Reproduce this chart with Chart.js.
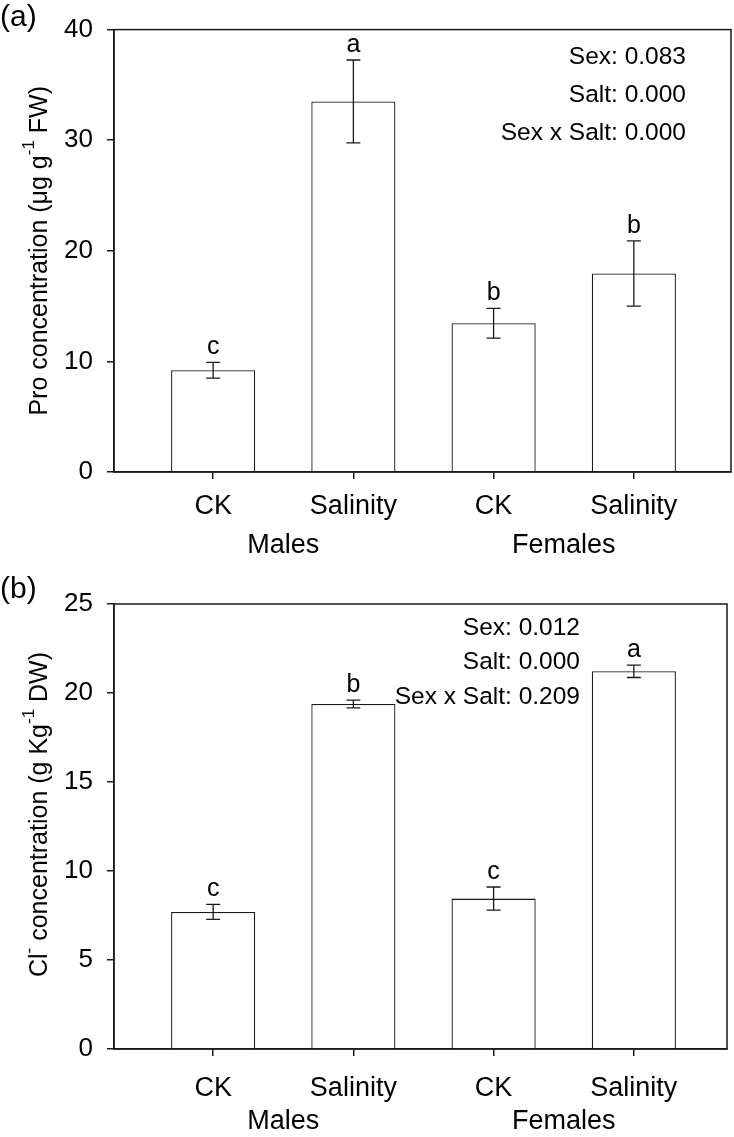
<!DOCTYPE html>
<html>
<head>
<meta charset="utf-8">
<script src="https://cdn.jsdelivr.net/npm/chart.js@4.4.0/dist/chart.umd.min.js"></script>
<style>
  html, body { margin: 0; padding: 0; background: #fff; }
  body { width: 734px; height: 1137px; position: relative; overflow: hidden; }
  canvas { position: absolute; left: 0; }
  #c1 { top: 0; }
  #c2 { top: 568px; }
</style>
</head>
<body>
<canvas id="c1" width="734" height="568"></canvas>
<canvas id="c2" width="734" height="569"></canvas>
<script>
// ---- data ----
const categories = ['CK', 'Salinity', 'CK', 'Salinity'];
const groups = ['Males', 'Females'];

const proValues  = [9.2, 33.5, 13.45, 17.95];
const proErrors  = [0.72, 3.75, 1.35, 2.95];
const proLetters = ['c', 'a', 'b', 'b'];
const proStats   = ['Sex: 0.083', 'Salt: 0.000', 'Sex x Salt: 0.000'];
const proTicks   = [0, 10, 20, 30, 40];

const clValues  = [7.7, 19.38, 8.45, 21.22];
const clErrors  = [0.42, 0.22, 0.65, 0.35];
const clLetters = ['c', 'b', 'c', 'a'];
const clStats   = ['Sex: 0.012', 'Salt: 0.000', 'Sex x Salt: 0.209'];
const clTicks   = [0, 5, 10, 15, 20, 25];

const FONT = '"Liberation Sans", Arial, Helvetica, sans-serif';
const INK = '#1a1a1a';

function drawRich(ctx, segs, size) {
  let total = 0;
  const parts = segs.map(s => {
    const fs = s.sup ? size * 0.68 : size;
    ctx.font = fs + 'px ' + FONT;
    const w = ctx.measureText(s.t).width;
    total += w;
    return { t: s.t, fs, w, sup: s.sup };
  });
  let x = -total / 2;
  parts.forEach(p => {
    ctx.font = p.fs + 'px ' + FONT;
    ctx.fillText(p.t, x, p.sup ? -size * 0.42 : 0);
    x += p.w;
  });
}

function makePanel(id, cfg) {
  const canvas = document.getElementById(id);
  const H = canvas.height;
  const overlay = {
    id: 'overlay',
    afterDatasetsDraw(chart) {
      const ctx = chart.ctx;
      const xs = chart.scales.x, ys = chart.scales.y;
      const a = chart.chartArea;
      ctx.save();
      ctx.strokeStyle = INK;
      ctx.lineWidth = 1.5;
      ctx.strokeRect(a.left, a.top, a.right - a.left, a.bottom - a.top);
      cfg.values.forEach((v, i) => {
        const px = xs.getPixelForValue(i + 1);
        const hi = ys.getPixelForValue(v + cfg.errors[i]);
        const lo = ys.getPixelForValue(v - cfg.errors[i]);
        ctx.beginPath();
        ctx.moveTo(px, hi); ctx.lineTo(px, lo);
        ctx.moveTo(px - 7, hi); ctx.lineTo(px + 7, hi);
        ctx.moveTo(px - 7, lo); ctx.lineTo(px + 7, lo);
        ctx.lineWidth = 1.3;
        ctx.stroke();
        ctx.fillStyle = '#000';
        ctx.font = '25px ' + FONT;
        ctx.textAlign = 'center';
        ctx.textBaseline = 'alphabetic';
        ctx.fillText(cfg.letters[i], px, hi - 8);
      });
      ctx.font = '24.5px ' + FONT;
      ctx.textAlign = 'right';
      ctx.textBaseline = 'middle';
      cfg.stats.forEach((s, i) => {
        ctx.fillText(s, cfg.statsX, cfg.statsY + i * cfg.statsGap);
      });
      ctx.textAlign = 'center';
      ctx.font = '27px ' + FONT;
      ctx.fillText(groups[0], xs.getPixelForValue(1.5), a.bottom + cfg.groupDy);
      ctx.fillText(groups[1], xs.getPixelForValue(3.5), a.bottom + cfg.groupDy);
      ctx.font = '30px ' + FONT;
      ctx.textAlign = 'left';
      ctx.fillText(cfg.panel, 0, cfg.panelY);
      ctx.translate(40, (a.top + a.bottom) / 2 + cfg.titleDy);
      ctx.rotate(-Math.PI / 2);
      ctx.textAlign = 'left';
      ctx.textBaseline = 'middle';
      drawRich(ctx, cfg.title, 25);
      ctx.restore();
    }
  };
  return new Chart(canvas, {
    type: 'bar',
    data: {
      datasets: [{
        data: cfg.values.map((v, i) => ({ x: i + 1, y: v })),
        backgroundColor: '#ffffff',
        borderColor: INK,
        borderWidth: 1.3,
        categoryPercentage: 1,
        barPercentage: 0.6
      }]
    },
    options: {
      responsive: false,
      animation: false,
      devicePixelRatio: 1,
      layout: { padding: { top: cfg.top, right: 734 - cfg.right, left: 0, bottom: 0 } },
      plugins: { legend: { display: false }, tooltip: { enabled: false } },
      scales: {
        x: {
          type: 'linear',
          offset: false,
          min: 0.293,
          max: cfg.xmax,
          afterBuildTicks: s => { s.ticks = categories.map((c, i) => ({ value: i + 1 })); },
          afterFit: s => { s.height = H - cfg.bottom; },
          ticks: {
            callback: v => categories[v - 1],
            font: { family: FONT, size: 27 },
            color: '#000',
            padding: cfg.xPad,
            maxRotation: 0,
            autoSkip: false
          },
          grid: { offset: false, drawOnChartArea: false, drawTicks: true, tickLength: 7, color: INK, lineWidth: 1.5 },
          border: { color: INK, width: 1.5 }
        },
        y: {
          min: 0,
          max: cfg.ticks[cfg.ticks.length - 1],
          afterBuildTicks: s => { s.ticks = cfg.ticks.map(v => ({ value: v })); },
          afterFit: s => { s.width = 114; },
          ticks: {
            font: { family: FONT, size: 26 },
            color: '#000',
            padding: 14
          },
          grid: { drawOnChartArea: false, drawTicks: true, tickLength: 7, color: INK, lineWidth: 1.5 },
          border: { color: INK, width: 1.5 }
        }
      }
    },
    plugins: [overlay]
  });
}

makePanel('c1', {
  values: proValues, errors: proErrors, letters: proLetters, stats: proStats, ticks: proTicks,
  top: 28, bottom: 472, right: 731, xmax: 4 + 97 / 140,
  statsX: 686, statsY: 57, statsGap: 38, groupDy: 74, xPad: 11,
  panel: '(a)', panelY: 18, titleDy: 0,
  title: [{ t: 'Pro concentration (μg g' }, { t: '-1', sup: true }, { t: ' FW)' }]
});

makePanel('c2', {
  values: clValues, errors: clErrors, letters: clLetters, stats: clStats, ticks: clTicks,
  top: 36, bottom: 481, right: 727, xmax: 4 + 93 / 140,
  statsX: 580, statsY: 60, statsGap: 34.5, groupDy: 73, xPad: 16,
  panel: '(b)', panelY: 22, titleDy: -12,
  title: [{ t: 'Cl' }, { t: '-', sup: true }, { t: ' concentration (g Kg' }, { t: '-1', sup: true }, { t: ' DW)' }]
});
</script>
</body>
</html>
